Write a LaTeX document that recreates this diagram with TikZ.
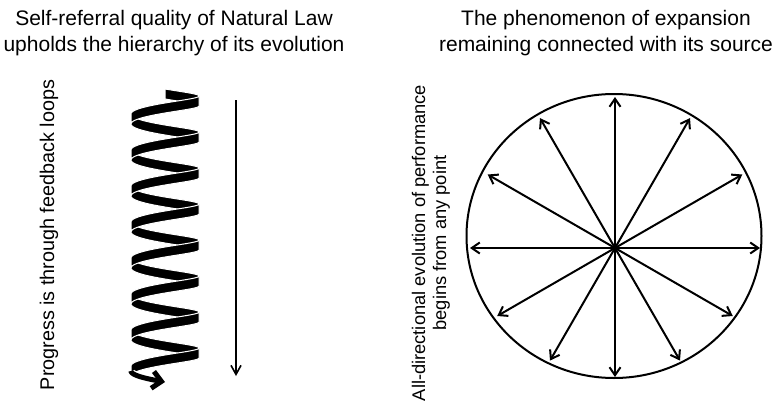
\documentclass[tikz,border=0pt]{standalone}
\usepackage{fontspec}
\setmainfont{Liberation Sans}
\usetikzlibrary{arrows.meta,shapes.geometric}
\tikzstyle{heading} = [align=center, inner sep=0pt, font=\fontsize{21}{25.5}\selectfont]
\tikzstyle{sidenote} = [rotate=90, align=center, inner sep=0pt, font=\fontsize{19.8}{21.5}\selectfont]
\tikzstyle{coilband} = [fill=black, draw=white, line width=1pt]
\tikzstyle{ray} = [line width=2pt, -{Straight Barb[length=8pt,width=11pt]}]

\begin{document}
\begin{tikzpicture}[x=1pt,y=-1pt]
  \useasboundingbox (0,0) rectangle (780,407);
  % titles and side notes
  \draw (174,33) node[heading](lefttitle){Self-referral quality of Natural Law\\upholds the hierarchy of its evolution};
  \draw (606,33) node[heading](righttitle){The phenomenon of expansion\\remaining connected with its source};
  \draw (49,235) node[sidenote](leftnote){Progress is through feedback loops};
  \draw (431,243) node[sidenote, font=\fontsize{18.3}{21}\selectfont](rightnote){All-directional evolution of performance\\begins from any point};
  % coil: back strands first, then front strands
  \fill[coilband] plot[domain=0:90, samples=20] ({165+34*sin(\x)},{87+0.1*\x+2*cos(\x)})
    -- plot[domain=90:0, samples=20] ({165+34*sin(\x)},{97+0.1*\x+2*cos(\x)}) -- cycle;
  \foreach \n [evaluate=\n as \a using 270+360*\n, evaluate=\n as \b using 450+360*\n] in {0,...,6}
    \fill[coilband] plot[domain=\a:\b, samples=40] ({165+34*sin(\x)},{87+0.1*\x+2*cos(\x)})
      -- plot[domain=\b:\a, samples=40] ({165+34*sin(\x)},{97+0.1*\x+2*cos(\x)}) -- cycle;
  \foreach \n [evaluate=\n as \a using 90+360*\n, evaluate=\n as \b using 270+360*\n] in {0,...,7}
    \fill[coilband] plot[domain=\a:\b, samples=40] ({165+34*sin(\x)},{87+0.1*\x+2*cos(\x)})
      -- plot[domain=\b:\a, samples=40] ({165+34*sin(\x)},{97+0.1*\x+2*cos(\x)}) -- cycle;
  \draw[white, line width=7.5pt] plot[domain=2795:2860, samples=20] ({165+34*sin(\x)},{92+0.1*\x+2*cos(\x)});
  \draw[line width=5pt, -{Straight Barb[length=9pt,width=17pt]}] plot[domain=2790:2880, samples=20] ({165+34*sin(\x)},{92+0.1*\x+2*cos(\x)});
  % downward arrow
  \coordinate (flowtop) at (236,100);
  \coordinate (flowend) at (236,376);
  \draw[line width=1.6pt, -{Straight Barb[length=9pt,width=10pt]}] (flowtop) -- (flowend);
  % wheel
  \draw (614,236) node[draw, ellipse, line width=2pt, inner sep=0pt, minimum width=295pt, minimum height=284pt](rim){};
  \coordinate (hub) at (615,248);
  \foreach \a/\r in {0/145,30/147,60/150,90/151,120/150,150/147,180/145,210/136,240/130,270/129,300/130,330/136}{
    \path (hub) ++(\a:\r pt) coordinate (tip\a);
    \draw[ray] (hub) -- (tip\a);
  }
\end{tikzpicture}
\end{document}
